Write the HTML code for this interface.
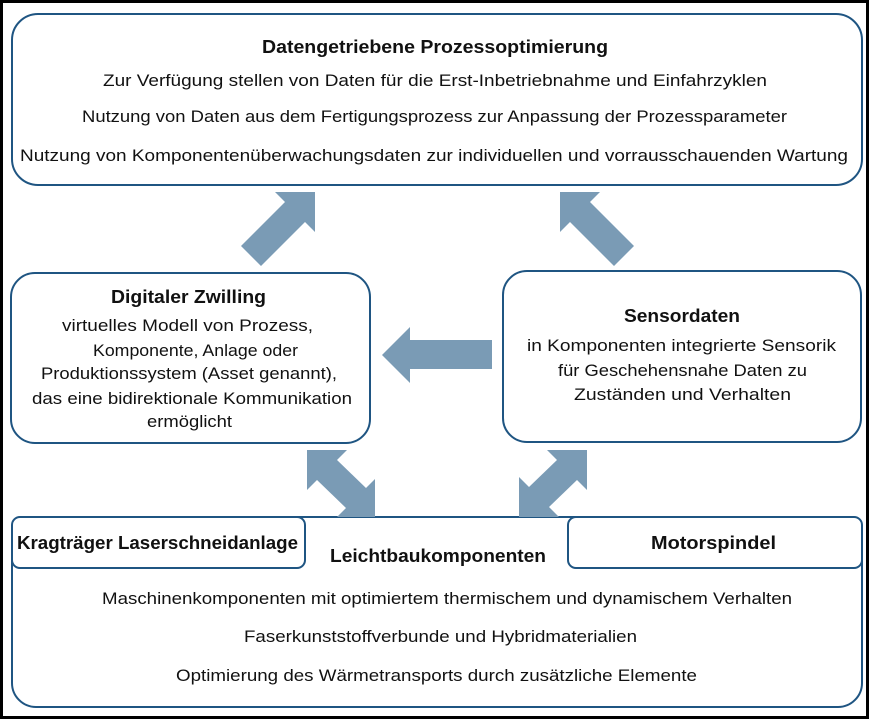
<!DOCTYPE html>
<html><head><meta charset="utf-8"><style>
html,body{margin:0;padding:0;background:#fff}
svg{display:block}
text{font-family:"Liberation Sans",sans-serif;fill:#111}
.b{font-weight:bold}
</style></head><body>
<svg width="870" height="719" viewBox="0 0 870 719" xmlns="http://www.w3.org/2000/svg">
<rect x="1.5" y="1.5" width="866" height="716" fill="#fff" stroke="#000" stroke-width="3"/>
<g fill="#fff" stroke="#1f5582" stroke-width="2">
<rect x="12" y="14" width="850" height="171" rx="26"/>
<rect x="11" y="273" width="359" height="170" rx="24"/>
<rect x="503" y="271" width="358" height="171" rx="24"/>
<rect x="12" y="517" width="850" height="190" rx="24"/>
<rect x="12" y="517" width="293" height="51" rx="8"/>
<rect x="568" y="517" width="294" height="51" rx="8"/>
</g>
<g fill="#7a9bb5">
<polygon points="275,192 315,192 315,232 305,222 261,266 241,246 285,202"/>
<polygon points="600,192 560,192 560,232 570,222 614,266 634,246 590,202"/>
<polygon points="382,355 410,327 410,340 492,340 492,369 410,369 410,383"/>
<polygon points="307,450 347,450 337,460 366,488 375,479 375,517 337,517 346,508 317,480 307,490"/>
<polygon points="587,450 547,450 557,460 529,487 519,477 519,517 559,517 549,507 577,480 587,490"/>
</g>
<g font-size="17">
<text class="b" x="262" y="53" textLength="346" lengthAdjust="spacingAndGlyphs" font-size="18">Datengetriebene Prozessoptimierung</text>
<text x="103" y="86" textLength="664" lengthAdjust="spacingAndGlyphs">Zur Verfügung stellen von Daten für die Erst-Inbetriebnahme und Einfahrzyklen</text>
<text x="82" y="122" textLength="705" lengthAdjust="spacingAndGlyphs">Nutzung von Daten aus dem Fertigungsprozess zur Anpassung der Prozessparameter</text>
<text x="20" y="161" textLength="828" lengthAdjust="spacingAndGlyphs">Nutzung von Komponentenüberwachungsdaten zur individuellen und vorrausschauenden Wartung</text>

<text class="b" x="111" y="303" textLength="155" lengthAdjust="spacingAndGlyphs" font-size="18">Digitaler Zwilling</text>
<text x="62" y="331" textLength="251" lengthAdjust="spacingAndGlyphs">virtuelles Modell von Prozess,</text>
<text x="93" y="356" textLength="205" lengthAdjust="spacingAndGlyphs">Komponente, Anlage oder</text>
<text x="41" y="379" textLength="296" lengthAdjust="spacingAndGlyphs">Produktionssystem (Asset genannt),</text>
<text x="32" y="404" textLength="320" lengthAdjust="spacingAndGlyphs">das eine bidirektionale Kommunikation</text>
<text x="147" y="427" textLength="85" lengthAdjust="spacingAndGlyphs">ermöglicht</text>

<text class="b" x="624" y="322" textLength="116" lengthAdjust="spacingAndGlyphs" font-size="18">Sensordaten</text>
<text x="527" y="351" textLength="309" lengthAdjust="spacingAndGlyphs">in Komponenten integrierte Sensorik</text>
<text x="558" y="376" textLength="249" lengthAdjust="spacingAndGlyphs">für Geschehensnahe Daten zu</text>
<text x="574" y="400" textLength="217" lengthAdjust="spacingAndGlyphs">Zuständen und Verhalten</text>

<text class="b" x="17" y="549" textLength="281" lengthAdjust="spacingAndGlyphs" font-size="18">Kragträger Laserschneidanlage</text>
<text class="b" x="330" y="562" textLength="216" lengthAdjust="spacingAndGlyphs" font-size="18">Leichtbaukomponenten</text>
<text class="b" x="651" y="549" textLength="125" lengthAdjust="spacingAndGlyphs" font-size="18">Motorspindel</text>
<text x="102" y="604" textLength="690" lengthAdjust="spacingAndGlyphs">Maschinenkomponenten mit optimiertem thermischem und dynamischem Verhalten</text>
<text x="244" y="642" textLength="393" lengthAdjust="spacingAndGlyphs">Faserkunststoffverbunde und Hybridmaterialien</text>
<text x="176" y="681" textLength="521" lengthAdjust="spacingAndGlyphs">Optimierung des Wärmetransports durch zusätzliche Elemente</text>
</g>
</svg>
</body></html>
